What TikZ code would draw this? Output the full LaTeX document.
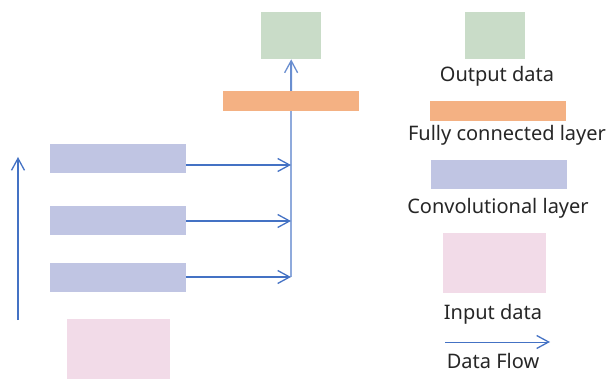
\documentclass[tikz,border=0pt]{standalone}
\usepackage{fontspec}
\setmainfont{Noto Sans}
\usetikzlibrary{positioning,arrows.meta}
\definecolor{outgreen}{HTML}{C9DCC8}
\definecolor{fcorange}{HTML}{F4B183}
\definecolor{convblue}{HTML}{C0C5E3}
\definecolor{inpink}{HTML}{F2DBE8}
\definecolor{flowblue}{HTML}{4472C4}
\definecolor{busblue}{HTML}{8FAADC}
\tikzset{
  blk/.style={rectangle,draw=none,inner sep=0pt,anchor=north west},
  outblk/.style={blk,fill=outgreen,minimum width=60pt,minimum height=47pt},
  fcblk/.style={blk,fill=fcorange,minimum width=136pt,minimum height=20pt},
  convblk/.style={blk,fill=convblue,minimum width=136pt,minimum height=29pt},
  inblk/.style={blk,fill=inpink,minimum width=103pt,minimum height=60pt},
  barb/.style={-{Straight Barb[length=12pt,width=13pt,line width=1.3pt]}},
  flow/.style={draw=flowblue,line width=1.3pt,barb},
  bus/.style={draw=busblue,line width=2pt},
  lbl/.style={font=\fontsize{20}{24}\selectfont,text=black!85,inner sep=0pt},
}
\begin{document}
\begin{tikzpicture}[x=1pt,y=-1pt]
\useasboundingbox (0,0) rectangle (609,379);

% network
\node[outblk] (outdata) at (261,12) {};
\node[convblk] (conv1) at (50,144) {};
\node[convblk] (conv2) at (50,206) {};
\node[convblk] (conv3) at (50,263) {};
\node[inblk] (indata) at (67,319) {};

\coordinate (j1) at (291,165);
\coordinate (j2) at (291,221);
\coordinate (j3) at (291,277);

\draw[bus] (j3) -- (291,101);
\draw[bus,barb,draw=flowblue!80] (291,101) -- (outdata.south);
\node[fcblk] (fclayer) at (223,91) {};

\draw[flow] (conv1.east |- j1) -- (j1);
\draw[flow] (conv2.east |- j2) -- (j2);
\draw[flow] (conv3.east |- j3) -- (j3);

% overall direction
\coordinate (dirstart) at (18,320);
\coordinate (dirend) at (18,157);
\draw[flow] (dirstart) -- (dirend);

% legend
\node[outblk] (legout) at (465,12) {};
\node[lbl] (legoutlbl) at (497,76) {Output data};
\node[fcblk] (legfc) at (430,101) {};
\node[lbl] (legfclbl) at (507,135) {Fully connected layer};
\node[convblk] (legconv) at (431,160) {};
\node[lbl] (legconvlbl) at (498,208) {Convolutional layer};
\node[inblk] (legin) at (443,233) {};
\node[lbl] (leginlbl) at (493,314) {Input data};
\coordinate (legflowa) at (445,342);
\coordinate (legflowb) at (550,342);
\draw[flow,line width=0.9pt] (legflowa) -- (legflowb);
\node[lbl] (legflowlbl) at (493,361) {Data Flow};

\end{tikzpicture}
\end{document}
